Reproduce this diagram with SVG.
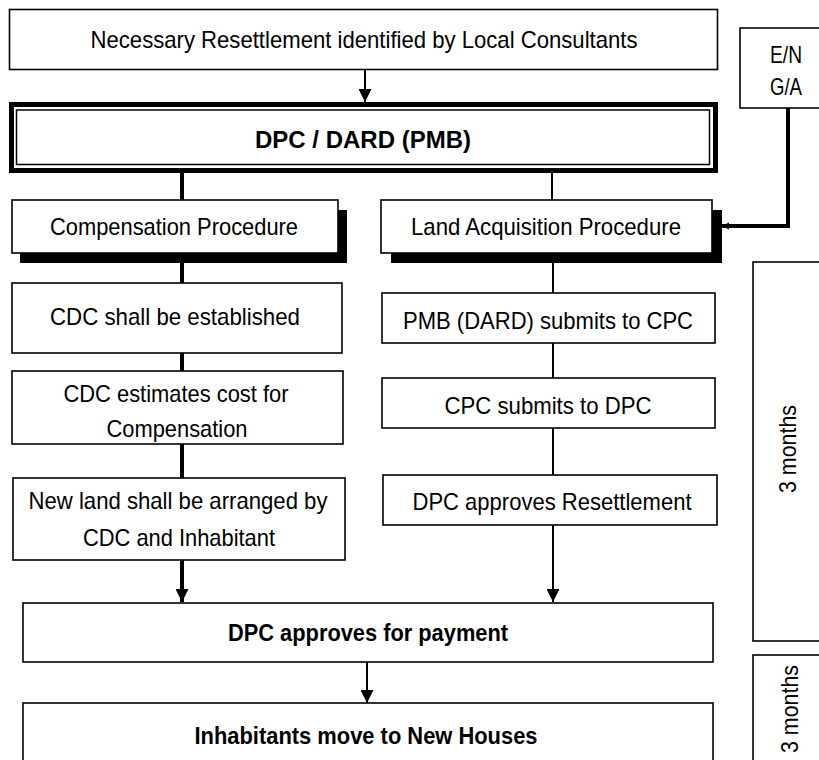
<svg xmlns="http://www.w3.org/2000/svg" width="819" height="760" viewBox="0 0 819 760">
<style>
.box{fill:#fff;stroke:#000;stroke-width:1.6}
.sh{fill:#000}
.t{font-family:"Liberation Sans",Arial,sans-serif;font-size:24px;fill:#000;text-anchor:middle}
.b{font-weight:bold}
.thick{stroke:#000;stroke-width:4;fill:none}
.thin{stroke:#000;stroke-width:2;fill:none}
</style>
<defs>
<marker id="ah" viewBox="0 0 10 10" refX="10" refY="5" markerWidth="13" markerHeight="13" markerUnits="userSpaceOnUse" orient="auto"><path d="M0,0 L10,5 L0,10 z" fill="#000"/></marker>
<marker id="ah2" viewBox="0 0 10 10" refX="10" refY="5" markerWidth="7" markerHeight="14" markerUnits="userSpaceOnUse" orient="auto"><path d="M0,0 L10,5 L0,10 z" fill="#000"/></marker>
</defs>

<g id="connectors">
<line class="thin" x1="365" y1="70" x2="365" y2="102" marker-end="url(#ah)"/>
<line class="thick" x1="182" y1="173" x2="182" y2="200"/>
<line class="thin" x1="552" y1="173" x2="552" y2="200"/>
<line class="thick" x1="182" y1="263" x2="182" y2="283"/>
<line class="thick" x1="182" y1="353" x2="182" y2="371"/>
<line class="thick" x1="182" y1="444" x2="182" y2="478"/>
<line class="thick" x1="182" y1="560" x2="182" y2="602" marker-end="url(#ah)"/>
<line class="thin" x1="553" y1="263" x2="553" y2="293"/>
<line class="thin" x1="553" y1="343" x2="553" y2="378"/>
<line class="thin" x1="553" y1="428" x2="553" y2="475"/>
<line class="thin" x1="553" y1="525" x2="553" y2="602" marker-end="url(#ah)"/>
<line class="thin" x1="367" y1="662" x2="367" y2="703" marker-end="url(#ah)"/>
<polyline class="thick" points="788,108 788,226 722,226" marker-end="url(#ah2)"/>
</g>

<g id="n-top">
<rect class="box" x="9.5" y="9.5" width="708" height="60"/>
<text class="t" x="364" y="48" textLength="547" lengthAdjust="spacingAndGlyphs">Necessary Resettlement identified by Local Consultants</text>
</g>

<g id="n-en">
<rect class="box" x="740" y="28" width="82" height="80"/>
<text class="t" x="786" y="63" textLength="32" lengthAdjust="spacingAndGlyphs">E/N</text>
<text class="t" x="786" y="95" textLength="32" lengthAdjust="spacingAndGlyphs">G/A</text>
</g>

<g id="n-dpc">
<rect x="11.5" y="104.5" width="704" height="66" fill="#fff" stroke="#000" stroke-width="5"/>
<rect x="16.5" y="110" width="693" height="54.5" fill="none" stroke="#000" stroke-width="1.5"/>
<text class="t b" x="363" y="148" textLength="216" lengthAdjust="spacingAndGlyphs">DPC / DARD (PMB)</text>
</g>

<g id="n-comp">
<rect class="sh" x="20" y="210" width="327" height="53"/>
<rect class="box" x="12" y="200" width="326" height="53"/>
<text class="t" x="174" y="235" textLength="248" lengthAdjust="spacingAndGlyphs">Compensation Procedure</text>
</g>

<g id="n-land">
<rect class="sh" x="391" y="210" width="331" height="53"/>
<rect class="box" x="381" y="200" width="331" height="53"/>
<text class="t" x="546" y="235" textLength="270" lengthAdjust="spacingAndGlyphs">Land Acquisition Procedure</text>
</g>

<g id="n-cdc1">
<rect class="box" x="12" y="283" width="330" height="70"/>
<text class="t" x="175" y="325" textLength="250" lengthAdjust="spacingAndGlyphs">CDC shall be established</text>
</g>

<g id="n-cdc2">
<rect class="box" x="12" y="371" width="331" height="73"/>
<text class="t" x="176" y="402" textLength="225" lengthAdjust="spacingAndGlyphs">CDC estimates cost for</text>
<text class="t" x="177" y="437" textLength="141" lengthAdjust="spacingAndGlyphs">Compensation</text>
</g>

<g id="n-newland">
<rect class="box" x="13" y="478" width="332" height="82"/>
<text class="t" x="178" y="509" textLength="299" lengthAdjust="spacingAndGlyphs">New land shall be arranged by</text>
<text class="t" x="179" y="546" textLength="192" lengthAdjust="spacingAndGlyphs">CDC and Inhabitant</text>
</g>

<g id="n-pmb">
<rect class="box" x="382" y="293" width="333" height="50"/>
<text class="t" x="548" y="329" textLength="290" lengthAdjust="spacingAndGlyphs">PMB (DARD) submits to CPC</text>
</g>

<g id="n-cpc">
<rect class="box" x="382" y="378" width="333" height="50"/>
<text class="t" x="548" y="414" textLength="207" lengthAdjust="spacingAndGlyphs">CPC submits to DPC</text>
</g>

<g id="n-dpcres">
<rect class="box" x="383" y="475" width="334" height="50"/>
<text class="t" x="552" y="510" textLength="279" lengthAdjust="spacingAndGlyphs">DPC approves Resettlement</text>
</g>

<g id="n-pay">
<rect class="box" x="23" y="603" width="690" height="59"/>
<text class="t b" x="368" y="641" textLength="280" lengthAdjust="spacingAndGlyphs">DPC approves for payment</text>
</g>

<g id="n-move">
<rect class="box" x="23" y="703" width="690" height="70"/>
<text class="t b" x="366" y="744" textLength="343" lengthAdjust="spacingAndGlyphs">Inhabitants move to New Houses</text>
</g>

<g id="n-m1">
<rect class="box" x="753" y="262" width="80" height="379"/>
<text class="t" transform="translate(796,449) rotate(-90)" x="0" y="0" textLength="88" lengthAdjust="spacingAndGlyphs">3 months</text>
</g>

<g id="n-m2">
<rect class="box" x="753" y="655" width="80" height="120"/>
<text class="t" transform="translate(798,709) rotate(-90)" x="0" y="0" textLength="88" lengthAdjust="spacingAndGlyphs">3 months</text>
</g>
</svg>
